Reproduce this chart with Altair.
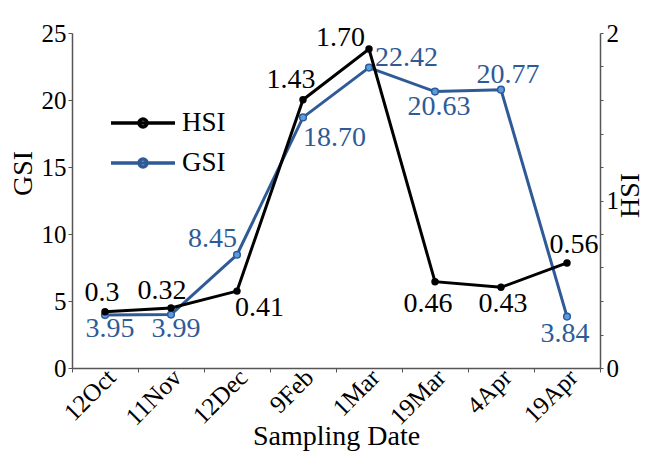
import altair as alt
import pandas as pd

# ---- data ----
dates = ["12Oct", "11Nov", "12Dec", "9Feb", "1Mar", "19Mar", "4Apr", "19Apr"]
gsi = [3.95, 3.99, 8.45, 18.70, 22.42, 20.63, 20.77, 3.84]
hsi = [0.30, 0.32, 0.41, 1.43, 1.70, 0.46, 0.43, 0.56]
hsi_labels = ["0.3", "0.32", "0.41", "1.43", "1.70", "0.46", "0.43", "0.56"]
gsi_ticks = [0, 5, 10, 15, 20, 25]
hsi_ticks = [0, 0.2, 0.4, 0.6, 0.8, 1, 1.2, 1.4, 1.6, 1.8, 2]
series_names = ["HSI", "GSI"]

# ---- label placement (align, dx, dy) ----
GSI_PLACE = {
    "12Oct": ("center", 5, 22), "11Nov": ("center", 5, 22),
    "12Dec": ("right", 0, -8), "9Feb": ("left", 0, 29),
    "1Mar": ("left", 6, -2), "19Mar": ("center", 4, 23),
    "4Apr": ("center", 7, -7), "19Apr": ("center", -2, 25),
}
HSI_PLACE = {
    "12Oct": ("center", -3, -11), "11Nov": ("center", -9, -9),
    "12Dec": ("left", -2, 25), "9Feb": ("center", -12, -12),
    "1Mar": ("right", -4, -3), "19Mar": ("center", -7, 30),
    "4Apr": ("center", 2, 25), "19Apr": ("center", 7, -10),
}

BLUE = "#2e5b97"
LIGHT = "#5b9be0"
FONT = "Liberation Serif"
AXC = "#555555"
LABEL_SIZE = 28

df = pd.DataFrame({"date": dates, "GSI": gsi, "HSI": hsi, "HSI_label": hsi_labels})
base = alt.Chart(df)

X = alt.X(
    "date:N", sort=dates,
    scale=alt.Scale(type="band", paddingInner=0, paddingOuter=0),
    axis=alt.Axis(
        title="Sampling Date", tickBand="extent", labelAngle=315,
        labelAlign="right", labelBaseline="middle", labelOffset=6,
        labelPadding=1, tickSize=4, grid=False, titleY=54, titleBaseline="top",
    ),
)

Y_GSI = alt.Y(
    "GSI:Q", scale=alt.Scale(domain=[0, 25], nice=False),
    axis=alt.Axis(title="GSI", values=gsi_ticks, tickSize=4, grid=False,
                  orient="left", titleY=140),
)
Y_HSI = alt.Y("HSI:Q", scale=alt.Scale(domain=[0, 25 / 14], nice=False), axis=None)
Y_HSI_AXIS = alt.Y(
    "HSI:Q", scale=alt.Scale(domain=[0, 2], nice=False),
    axis=alt.Axis(
        title="HSI", orient="right", values=hsi_ticks, tickSize=3, grid=False,
        labelExpr="datum.value % 1 == 0 ? format(datum.value, 'd') : ''",
        titleAngle=270, titleX=30, titleY=162, titleBaseline="middle",
        labelPadding=3,
    ),
)

LEGEND_PATH = "M-2,0H2M-0.25,0A0.25,0.25,0,1,0,0.25,0A0.25,0.25,0,1,0,-0.25,0"

COLOR = alt.Color(
    "series:N",
    scale=alt.Scale(domain=series_names, range=["black", BLUE]),
    legend=alt.Legend(
        title="", orient="none", legendX=53, legendY=72,
        symbolType=LEGEND_PATH, symbolSize=1024, symbolStrokeWidth=3.5,
        labelFontSize=27, labelFont=FONT, labelOffset=21, rowPadding=9,
        padding=0,
    ),
)

gsi_line = base.transform_calculate(series="'GSI'").mark_line(strokeWidth=3).encode(x=X, y=Y_GSI, color=COLOR)
gsi_pts = base.mark_point(filled=True, fill=LIGHT, stroke=BLUE, strokeWidth=1.5, size=45, opacity=1).encode(x=X, y=Y_GSI)
gsi_texts = [
    base.transform_filter(alt.datum.date == d).mark_text(
        align=a, dx=dx, dy=dy, baseline="alphabetic", font=FONT, fontSize=LABEL_SIZE, color=BLUE
    ).encode(x=X, y=Y_GSI, text=alt.Text("GSI:Q", format=".2f"))
    for d, (a, dx, dy) in GSI_PLACE.items()
]
gsi_layer = alt.layer(gsi_line, gsi_pts, *gsi_texts)

hsi_line = base.transform_calculate(series="'HSI'").mark_line(strokeWidth=3).encode(x=X, y=Y_HSI, color=COLOR)
hsi_pts = base.mark_point(filled=True, fill="black", size=55, opacity=1).encode(x=X, y=Y_HSI)
hsi_texts = [
    base.transform_filter(alt.datum.date == d).mark_text(
        align=a, dx=dx, dy=dy, baseline="alphabetic", font=FONT, fontSize=LABEL_SIZE, color="black"
    ).encode(x=X, y=Y_HSI, text="HSI_label:N")
    for d, (a, dx, dy) in HSI_PLACE.items()
]
hsi_layer = alt.layer(hsi_line, hsi_pts, *hsi_texts)

axis_layer = base.mark_point(opacity=0).encode(x=X, y=Y_HSI_AXIS)

chart = (
    alt.layer(gsi_layer, hsi_layer, axis_layer)
    .resolve_scale(y="independent")
    .properties(
        width=528, height=335,
        autosize=alt.AutoSizeParams(type="none"),
        padding={"left": 64, "top": 25, "right": 44, "bottom": 88},
    )
    .configure_view(stroke="transparent")
    .configure_axis(
        labelFont=FONT, titleFont=FONT, labelFontSize=25, titleFontSize=28,
        titleFontWeight="normal", labelColor="black", titleColor="black",
        domainColor=AXC, tickColor=AXC, domainWidth=1.5,
    )
)

chart.save("out.html", embed_options={"renderer": "svg", "actions": False})
